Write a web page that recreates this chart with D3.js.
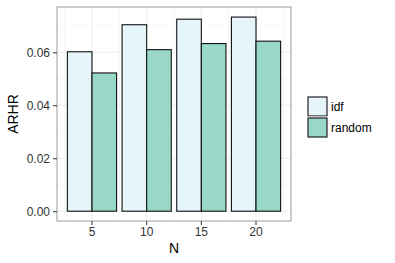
<!DOCTYPE html>
<html><head><meta charset="utf-8">
<script src="https://cdn.jsdelivr.net/npm/d3@7"></script>
<style>body{margin:0;background:#fff;} text{font-family:"Liberation Sans",Arial,sans-serif;}</style>
</head><body>
<svg id="c" width="395" height="263"></svg>
<script>
const categories = ["5","10","15","20"];
const seriesNames = ["idf","random"];
const idfValues = [0.0602, 0.0704, 0.0725, 0.0733];
const randomValues = [0.0522, 0.0610, 0.0633, 0.0642];
const yTicks = [0, 0.02, 0.04, 0.06];
const yMinor = [0.01, 0.03, 0.05, 0.07];
const colors = ["#e5f5f9", "#99d8c9"];

const svg = d3.select("#c");
const L = 57, R = 291, T = 7, B = 221;
const x = d3.scaleBand().domain(categories).range([L, R]).paddingInner(0).paddingOuter(0.14);
const y = d3.scaleLinear().domain([-0.0037, 0.0771]).range([B, T]);
const sub = d3.scaleBand().domain(seriesNames).range([0, x.bandwidth()*0.9]);

const g = svg.append("g");
g.append("rect").attr("x", L).attr("y", T).attr("width", R-L).attr("height", B-T).attr("fill", "#fff");
// minor grid
yMinor.forEach(v => g.append("line").attr("x1", L).attr("x2", R).attr("y1", y(v)).attr("y2", y(v)).attr("stroke", "#f2f2f2").attr("stroke-width", 0.6));
const minorX = [];
categories.forEach((c, i) => { minorX.push(x(c) + x.bandwidth()/2 - x.step()/2); });
minorX.push(x(categories[3]) + x.bandwidth()/2 + x.step()/2);
minorX.forEach(v => g.append("line").attr("x1", v).attr("x2", v).attr("y1", T).attr("y2", B).attr("stroke", "#f2f2f2").attr("stroke-width", 0.6));
// major grid
yTicks.forEach(v => g.append("line").attr("x1", L).attr("x2", R).attr("y1", y(v)).attr("y2", y(v)).attr("stroke", "#ebebeb").attr("stroke-width", 1));
categories.forEach(c => { const cx = x(c) + x.bandwidth()/2; g.append("line").attr("x1", cx).attr("x2", cx).attr("y1", T).attr("y2", B).attr("stroke", "#ebebeb").attr("stroke-width", 1); });

// bars
const data = [idfValues, randomValues];
categories.forEach((c, i) => {
  const x0 = x(c) + x.bandwidth()*0.05;
  seriesNames.forEach((s, j) => {
    const v = data[j][i];
    g.append("rect").attr("x", x0 + sub(s)).attr("width", sub.bandwidth())
      .attr("y", y(v)).attr("height", y(0) - y(v))
      .attr("fill", colors[j]).attr("stroke", "#111").attr("stroke-width", 1.1);
  });
});

// border
g.append("rect").attr("x", L).attr("y", T).attr("width", R-L).attr("height", B-T).attr("fill", "none").attr("stroke", "#999").attr("stroke-width", 1);

// axes
const yAxis = svg.append("g").attr("transform", `translate(${L},0)`)
  .call(d3.axisLeft(y).tickValues(yTicks).tickFormat(d3.format(".2f")).tickSize(4).tickPadding(3));
const xAxis = svg.append("g").attr("transform", `translate(0,${B})`)
  .call(d3.axisBottom(x).tickSize(4).tickPadding(2));
[yAxis, xAxis].forEach(a => {
  a.select(".domain").remove();
  a.selectAll(".tick line").attr("stroke", "#333").attr("stroke-width", 1);
  a.selectAll(".tick text").attr("fill", "#333").attr("font-size", 12).attr("font-family", "Liberation Sans, Arial, sans-serif");
});

svg.append("text").attr("transform", `translate(18,${(T+B)/2}) rotate(-90)`).attr("text-anchor", "middle")
  .attr("font-size", 14).attr("fill", "#000").text("ARHR");
svg.append("text").attr("x", (L+R)/2).attr("y", 253).attr("text-anchor", "middle")
  .attr("font-size", 14).attr("fill", "#000").text("N");

// legend
const lg = svg.append("g").attr("transform", "translate(307,96)");
seriesNames.forEach((s, j) => {
  const yy = j * 21;
  lg.append("rect").attr("x", 0).attr("y", yy).attr("width", 21).attr("height", 21).attr("fill", "#f2f2f2").attr("stroke", "#fff");
  lg.append("rect").attr("x", 1).attr("y", yy + 1).attr("width", 19).attr("height", 19).attr("fill", colors[j]).attr("stroke", "#111").attr("stroke-width", 1.1);
  lg.append("text").attr("x", 24).attr("y", yy + 14.5).attr("font-size", 12).attr("fill", "#000").text(s);
});
</script>
</body></html>
